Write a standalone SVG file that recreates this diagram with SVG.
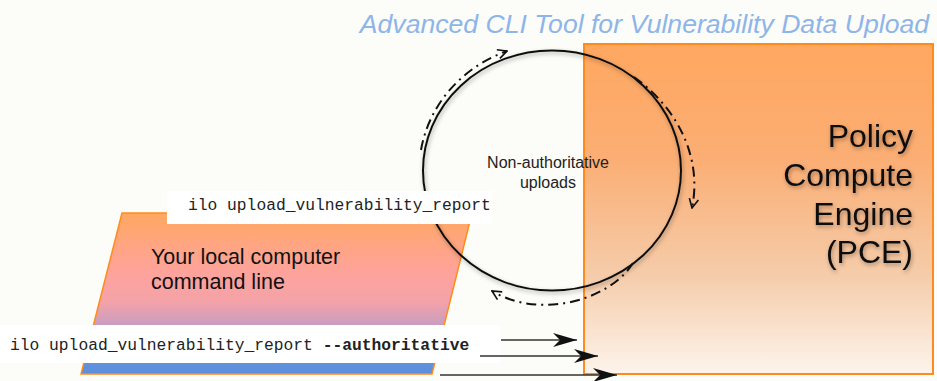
<svg xmlns="http://www.w3.org/2000/svg" width="937" height="381" viewBox="0 0 937 381">
<defs>
<linearGradient id="gPce" x1="0" y1="0" x2="0" y2="1">
<stop offset="0" stop-color="#FFA760"/>
<stop offset="0.35" stop-color="#FBAE74"/>
<stop offset="0.7" stop-color="#F5CCAA"/>
<stop offset="1" stop-color="#FDF4EC"/>
</linearGradient>
<linearGradient id="gCli" x1="0" y1="0" x2="0" y2="1">
<stop offset="0" stop-color="#FFA862"/>
<stop offset="0.35" stop-color="#FFA39A"/>
<stop offset="0.55" stop-color="#F4A2A8"/>
<stop offset="0.75" stop-color="#B89CCA"/>
<stop offset="0.86" stop-color="#6A92DA"/>
<stop offset="1" stop-color="#5B8FDD"/>
</linearGradient>
<filter id="shadow" x="-20%" y="-20%" width="140%" height="140%">
<feDropShadow dx="1" dy="2" stdDeviation="2" flood-color="#000" flood-opacity="0.35"/>
</filter>
<filter id="tshadow" x="-20%" y="-20%" width="140%" height="140%">
<feDropShadow dx="1" dy="2" stdDeviation="2" flood-color="#000" flood-opacity="0.35"/>
</filter>
<marker id="open" viewBox="0 0 12 12" refX="11" refY="6" markerWidth="11" markerHeight="11" markerUnits="userSpaceOnUse" orient="auto">
<path d="M1,1 L11,6 L1,11" fill="none" stroke="#111" stroke-width="1.8"/>
</marker>
<marker id="solid" viewBox="0 0 24 14" refX="24" refY="7" markerWidth="24" markerHeight="14" markerUnits="userSpaceOnUse" orient="auto">
<path d="M0,0 L24,7 L0,14 L7,7 z" fill="#111"/>
</marker>
<style>
.sans{font-family:"Liberation Sans",Arial,sans-serif}
.mono{font-family:"Liberation Mono","Courier New",monospace;font-size:16.3px;fill:#222}
.dd{fill:none;stroke:#111;stroke-width:2;stroke-dasharray:10 5 2 5;marker-end:url(#open)}
.ar{fill:none;stroke:#333;stroke-width:1.5;marker-end:url(#solid)}
.lbl{fill:#fff}
</style>
</defs>
<rect x="0" y="0" width="937" height="381" fill="#FCFCF8"/>

<g id="title">
<text x="929" y="33" text-anchor="end" class="sans" font-size="26.6" font-style="italic" fill="#8DB5EA">Advanced CLI Tool for Vulnerability Data Upload</text>
</g>

<g id="pce">
<rect x="584" y="44" width="349" height="330" fill="url(#gPce)" stroke="#FF8A1E" stroke-width="2"/>
<g class="sans" font-size="32" fill="#111" text-anchor="end" filter="url(#tshadow)">
<text x="913" y="147">Policy</text>
<text x="913" y="186">Compute</text>
<text x="913" y="225">Engine</text>
<text x="913" y="263">(PCE)</text>
</g>
</g>

<g id="local-cli">
<path d="M122,213 L472,213 L432,374 L81,374 Z" fill="url(#gCli)" stroke="#FF8C1A" stroke-width="1.5"/>
<g class="sans" font-size="21.5" fill="#111">
<text x="151" y="264">Your local computer</text>
<text x="151" y="289">command line</text>
</g>
</g>

<g id="cycle">
<ellipse cx="552" cy="170.5" rx="129" ry="120" fill="none" stroke="#111" stroke-width="2" filter="url(#shadow)"/>
<g class="sans" font-size="16" fill="#222" text-anchor="middle">
<text x="548" y="168">Non-authoritative</text>
<text x="548" y="188">uploads</text>
</g>
</g>

<g id="label-upload">
<rect x="167" y="191" width="325" height="33" class="lbl"/>
<text x="188" y="210" class="mono">ilo upload_vulnerability_report</text>
</g>

<g id="label-authoritative">
<rect x="0" y="325" width="500" height="38" class="lbl"/>
<text x="10" y="350" class="mono">ilo upload_vulnerability_report <tspan font-weight="bold">--authoritative</tspan></text>
</g>

<g id="connectors">
<path class="dd" d="M421,150 A137,128 0 0 1 507,51"/>
<path class="dd" d="M634,77 C680,110 702,160 692,208"/>
<path class="dd" d="M633,263 C610,300 540,320 492,291"/>
<line class="ar" x1="501" y1="340" x2="577" y2="340"/>
<line class="ar" x1="480" y1="356" x2="598" y2="356"/>
<line class="ar" x1="440" y1="375" x2="617" y2="375"/>
</g>
</svg>
